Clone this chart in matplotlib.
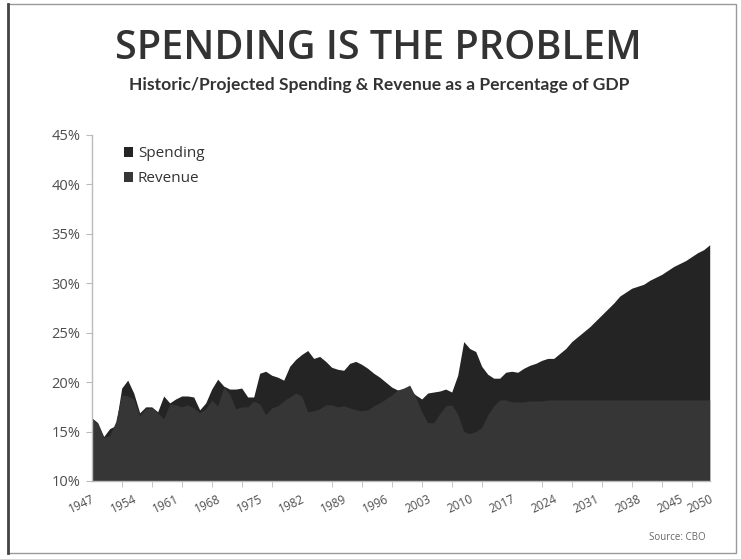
import matplotlib
matplotlib.use("Agg")
import matplotlib.pyplot as plt
from matplotlib.patches import Rectangle, Patch
from matplotlib.lines import Line2D

years = list(range(1947, 2051))

spending = [
    16.4, 15.9, 14.5, 15.3, 15.6, 19.4, 20.2, 18.9, 16.9, 17.5,  # 1947-1956
    17.5, 17.0, 18.6, 17.9, 18.3, 18.6, 18.6, 18.5, 17.2, 17.9,  # 1957-1966
    19.3, 20.3, 19.6, 19.3, 19.3, 19.4, 18.5, 18.5, 20.9, 21.1,  # 1967-1976
    20.7, 20.5, 20.2, 21.6, 22.3, 22.8, 23.2, 22.4, 22.6, 22.1,  # 1977-1986
    21.5, 21.3, 21.2, 21.9, 22.1, 21.8, 21.4, 20.9, 20.5, 20.0,  # 1987-1996
    19.5, 19.2, 19.2, 19.2, 18.7, 18.3, 18.9, 19.0, 19.1, 19.3,  # 1997-2006
    19.0, 20.7, 24.1, 23.4, 23.1, 21.6, 20.8, 20.4, 20.4, 21.0,  # 2007-2016
    21.1, 21.0, 21.4, 21.7, 21.9, 22.2, 22.4, 22.4, 22.9, 23.4,  # 2017-2026
    24.1, 24.6, 25.1, 25.6, 26.2, 26.8, 27.4, 28.0, 28.7, 29.1,  # 2027-2036
    29.5, 29.7, 29.9, 30.3, 30.6, 30.9, 31.3, 31.7, 32.0, 32.3,  # 2037-2046
    32.7, 33.1, 33.4, 33.9,                                      # 2047-2050
]

revenue = [
    16.3, 15.8, 14.4, 14.6, 16.0, 18.7, 18.6, 18.3, 16.6, 17.3,  # 1947-1956
    17.4, 16.9, 16.3, 17.8, 17.7, 17.5, 17.7, 17.4, 16.9, 17.3,  # 1957-1966
    18.2, 17.6, 19.5, 18.8, 17.3, 17.5, 17.5, 18.1, 17.8, 16.7,  # 1967-1976
    17.4, 17.6, 18.1, 18.5, 18.9, 18.6, 17.0, 17.1, 17.3, 17.7,  # 1977-1986
    17.7, 17.5, 17.6, 17.4, 17.2, 17.1, 17.2, 17.6, 17.9, 18.3,  # 1987-1996
    18.7, 19.2, 19.4, 19.7, 18.5, 17.0, 15.9, 15.9, 16.8, 17.6,  # 1997-2006
    17.7, 16.8, 15.0, 14.8, 15.0, 15.4, 16.7, 17.6, 18.2, 18.2,  # 2007-2016
    18.0, 18.0, 18.0, 18.1, 18.1, 18.1, 18.2, 18.2, 18.2, 18.2,  # 2017-2026
    18.2, 18.2, 18.2, 18.2, 18.2, 18.2, 18.2, 18.2, 18.2, 18.2,  # 2027-2036
    18.2, 18.2, 18.2, 18.2, 18.2, 18.2, 18.2, 18.2, 18.2, 18.2,  # 2037-2046
    18.2, 18.2, 18.2, 18.2,                                      # 2047-2050
]

ytick_vals = [10, 15, 20, 25, 30, 35, 40, 45]
xlabel_years = [1947, 1954, 1961, 1968, 1975, 1982, 1989, 1996, 2003, 2010,
                2017, 2024, 2031, 2038, 2045, 2050]
xtick_minor_years = list(range(1947, 2051, 5))

title = "SPENDING IS THE PROBLEM"
subtitle = "Historic/Projected Spending & Revenue as a Percentage of GDP"
source = "Source: CBO"

SPEND_C = "#242424"
REV_C = "#363636"
TEXT_C = "#333333"
TICK_C = "#4d4d4d"

plt.rcParams['font.family'] = ['Open Sans', 'DejaVu Sans']

W, H = 741, 559
fig = plt.figure(figsize=(W / 100, H / 100), dpi=100)
fig.patch.set_facecolor("white")

ax = fig.add_axes([91.7 / W, 1 - 481 / H, (709.7 - 91.7) / W, (481 - 135) / H])
ax.fill_between(years, 0, spending, color=SPEND_C, linewidth=0, label="Spending")
ax.fill_between(years, 0, revenue, color=REV_C, linewidth=0, label="Revenue")

ax.set_xlim(1947, 2050)
ax.set_ylim(10, 45)

for s in ["top", "right"]:
    ax.spines[s].set_visible(False)
for s in ["left", "bottom"]:
    ax.spines[s].set_color("#bbbbbb")
    ax.spines[s].set_linewidth(1.0)

ax.set_yticks(ytick_vals)
ax.set_yticklabels([f"{v}%" for v in ytick_vals], fontsize=10.5, color=TICK_C)
ax.tick_params(axis="y", length=4, color="#bbbbbb", pad=4)

ax.set_xticks(xtick_minor_years, minor=True)
ax.set_xticks(xlabel_years)
ax.set_xticklabels([str(y) for y in xlabel_years], fontsize=8.5, color=TICK_C,
                   rotation=25, ha="right", rotation_mode="anchor")
ax.tick_params(axis="x", which="major", length=0, pad=8)
ax.tick_params(axis="x", which="minor", length=4, color="#bbbbbb")

handles = [Patch(facecolor=SPEND_C, edgecolor="none", label="Spending"),
           Patch(facecolor=REV_C, edgecolor="none", label="Revenue")]
leg = ax.legend(handles=handles, loc="upper left",
                bbox_to_anchor=(118 / W, 1 - 140 / H), bbox_transform=fig.transFigure,
                frameon=False, fontsize=11, handlelength=0.6, handleheight=0.6,
                handletextpad=0.3, labelspacing=0.68, borderaxespad=0)
for t in leg.get_texts():
    t.set_color(TEXT_C)

fig.text(378 / W, 1 - 59 / H, title, ha="center", va="baseline", fontsize=28.5,
         fontweight="semibold", color=TEXT_C, family=["Open Sans", "DejaVu Sans"])
fig.text(379 / W, 1 - 90 / H, subtitle, ha="center", va="baseline", fontsize=12.6,
         fontweight="bold", color=TEXT_C, family=["Lato", "DejaVu Sans"])
fig.text(706 / W, 1 - 538 / H, source, ha="right", va="center", fontsize=7,
         color="#666666")

# slide frame
fig.add_artist(Rectangle((8 / W, 1 - 553 / H), (736 - 8) / W, (553 - 4) / H,
                         transform=fig.transFigure, fill=False,
                         edgecolor="#999999", linewidth=1.0))
fig.add_artist(Line2D([8 / W, 8 / W], [1 - 553 / H, 1 - 4 / H],
                      transform=fig.transFigure, color="#444444", linewidth=2))

fig.savefig("out.png", dpi=100, facecolor="white")
